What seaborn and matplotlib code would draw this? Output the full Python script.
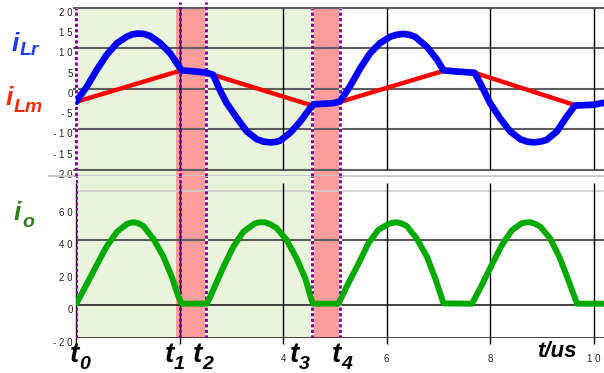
import matplotlib
matplotlib.use("Agg")
import matplotlib.pyplot as plt
import matplotlib.transforms as mtransforms
import seaborn as sns

# resonant inductor current i_Lr (A) over time (us)
t_lr = [0.00, 0.21, 0.40, 0.59, 0.79, 0.98, 1.09, 1.20, 1.31, 1.43, 1.62, 1.82,
        1.95, 2.04, 2.33, 2.53, 2.65, 2.78, 2.91, 3.11, 3.30, 3.49, 3.62, 3.75,
        3.85, 3.94, 4.14, 4.33, 4.52, 4.59, 4.97, 5.10, 5.29, 5.49, 5.68, 5.87,
        6.07, 6.20, 6.32, 6.44, 6.55, 6.78, 6.97, 7.10, 7.36, 7.70, 7.81, 8.00,
        8.19, 8.39, 8.58, 8.71, 8.84, 8.97, 9.09, 9.29, 9.48, 9.64, 10.00, 10.20]
i_lr = [-3.2, 0.6, 4.7, 8.4, 11.3, 12.9, 13.5, 13.7, 13.6, 13.1, 11.4, 8.8,
        6.3, 4.6, 4.3, 4.0, 3.5, -0.3, -3.5, -7.2, -10.5, -12.4, -13.0, -13.2,
        -13.1, -12.8, -10.8, -8.1, -4.8, -3.8, -3.5, -3.1, 0.6, 5.1, 8.8, 11.3,
        12.9, 13.4, 13.6, 13.4, 12.9, 10.4, 7.3, 4.6, 4.3, 4.0, 1.4, -3.5,
        -7.2, -10.5, -12.4, -13.0, -13.2, -13.0, -12.6, -10.5, -6.8, -4.1, -3.9, -3.4]

# magnetizing current i_Lm (A)
t_lm = [0.00, 2.01, 2.52, 4.54, 5.10, 7.08, 7.70, 9.64]
i_lm = [-3.2, 4.5, 4.0, -4.0, -3.2, 4.4, 4.0, -4.0]

# rectified output current i_o (A)
t_o = [0.01, 0.21, 0.40, 0.59, 0.79, 0.98, 1.05, 1.11, 1.20, 1.30, 1.49, 1.69,
       1.85, 1.98, 2.04, 2.53, 2.65, 2.85, 3.04, 3.23, 3.46, 3.55, 3.65, 3.76,
       3.88, 4.07, 4.26, 4.43, 4.55, 4.58, 5.07, 5.26, 5.46, 5.65, 5.84, 6.03,
       6.12, 6.20, 6.29, 6.39, 6.58, 6.78, 6.94, 7.10, 7.65, 7.84, 8.03, 8.23,
       8.42, 8.61, 8.69, 8.77, 8.87, 8.97, 9.16, 9.35, 9.51, 9.68, 10.20]
i_o = [1.0, 13.0, 24.6, 35.9, 45.0, 49.8, 50.6, 50.9, 50.4, 48.6, 41.0, 29.7,
       17.4, 5.1, 0.8, 0.8, 9.2, 23.6, 35.9, 45.0, 50.3, 50.9, 50.9, 49.6,
       47.2, 40.0, 28.7, 16.4, 3.1, 0.8, 0.8, 13.3, 25.6, 38.0, 46.2, 49.8,
       50.6, 50.9, 50.2, 48.6, 41.0, 29.7, 16.4, 1.0, 0.8, 12.3, 24.6, 37.0,
       46.0, 50.3, 50.8, 50.9, 50.0, 48.2, 41.0, 28.7, 15.4, 0.8, 0.8]

# switching instants t0..t4 (us)
instants = [0.0, 2.0, 2.52, 4.56, 5.10]
instant_names = ["0", "1", "2", "3", "4"]

# operating intervals
green_spans = [(0.0, 1.93), (2.52, 4.54)]
pink_spans = [(1.93, 2.52), (4.54, 5.10)]

top_ticks = [20, 15, 10, 5, 0, -5, -10, -15, -20]
top_tick_labels = ["2 0", "1 5", "1 0", "5", "0", "- 5", "- 1 0", "- 1 5", "- 2 0"]
bot_ticks = [60, 40, 20, 0, -20]
bot_tick_labels = ["6 0", "4 0", "2 0", "0", "- 2 0"]
x_ticks = [0, 2, 4, 6, 8, 10]
x_tick_labels = ["", "", "4", "6", "8", "1 0"]

sns.set_style("white")
plt.rcParams["font.family"] = ["Liberation Sans", "DejaVu Sans"]

W, H = 604, 373
fig = plt.figure(figsize=(W / 100, H / 100), dpi=100)


def px_axes(x0, y0, x1, y1):
    return fig.add_axes([x0 / W, 1 - y1 / H, (x1 - x0) / W, (y1 - y0) / H])


ax1 = px_axes(76, 8, 604, 176)
ax2 = px_axes(76, 176, 604, 337.5)
ax1.set_xlim(0, 10.2)
ax1.set_ylim(-21.5, 20)
ax2.set_xlim(0, 10.2)
ax2.set_ylim(-20, 79.4)

GREEN_BG = "#e9f4dc"
PINK_BG = "#ff9c9c"

for ax in (ax1, ax2):
    for s in ax.spines.values():
        s.set_visible(False)
    ax.set_facecolor("none")
    for a, b in green_spans:
        ax.axvspan(a, b, color=GREEN_BG, lw=0, zorder=0)
    for a, b in pink_spans:
        ax.axvspan(a, b, color=PINK_BG, lw=0, zorder=0)

# grid of the upper panel
ax1.hlines([20, 10, 0, -10, -20], -0.06, 10.2, colors="#5f5f5f", lw=1.5,
           zorder=1, clip_on=False)
ax1.vlines([2, 4, 6, 8, 10], -20, 20, colors="black", lw=1.0, zorder=1)
ax1.hlines([-21.5], -0.54, 10.2, colors="#c8c8c8", lw=1.4, zorder=1, clip_on=False)

# grid of the lower panel
ax2.hlines([70], 0, 10.2, colors="#cccccc", lw=1.2, zorder=1)
ax2.hlines([40], 0, 10.2, colors="#5a5a5a", lw=1.5, zorder=1)
ax2.hlines([0, -20], 0, 10.2, colors="#222222", lw=1.2, zorder=1)
ax2.vlines([0, 2, 4, 6, 8, 10], -24, 75, colors="black", lw=1.0, zorder=1,
           clip_on=False)

# dotted markers at the switching instants
PURPLE = "#7e0a8a"
ext_top = 6 / 168
for k, t in enumerate(instants):
    if k != 1:
        ax1.axvline(t, 0, 1, color="white", lw=2.0, zorder=2)
        if k != 0:
            ax2.axvline(t, 0, 1, color="white", lw=2.0, zorder=2)
    ymax = 1 + ext_top if k in (1, 2) else 1
    ax1.axvline(t, 0, ymax, color=PURPLE, lw=2.1, ls=(0, (1.1, 0.8)),
                zorder=2, clip_on=False)
    ax2.axvline(t, 0, 1, color=PURPLE, lw=2.1, ls=(0, (1.1, 0.8)), zorder=2)

# waveforms
line_kw = dict(estimator=None, sort=False, solid_joinstyle="round",
               solid_capstyle="round")
sns.lineplot(x=t_lm, y=i_lm, ax=ax1, color="#ff0000", lw=3.2, zorder=3, **line_kw)
sns.lineplot(x=t_lr, y=i_lr, ax=ax1, color="#0000ff", lw=4.8, zorder=4, **line_kw)
sns.lineplot(x=t_o, y=i_o, ax=ax2, color="#00aa00", lw=4.3, zorder=4, **line_kw)

# ticks
shift = mtransforms.ScaledTranslation(0, -4 / 100, fig.dpi_scale_trans)
ax1.set_yticks(top_ticks, top_tick_labels)
ax2.set_yticks(bot_ticks, bot_tick_labels)
ax1.set_xticks([])
ax2.set_xticks(x_ticks, x_tick_labels)
for ax in (ax1, ax2):
    ax.tick_params(axis="y", length=0, pad=2.5, labelsize=7, labelcolor="#222222")
    for lab in ax.get_yticklabels():
        lab.set_transform(lab.get_transform() + shift)
    ax.set_xlabel("")
    ax.set_ylabel("")
ax2.tick_params(axis="x", length=0, pad=12, labelsize=7, labelcolor="#222222")


def ftext(x, y, s, **kw):
    fig.text(x / W, 1 - y / H, s, va="baseline", ha="left",
             fontweight="bold", fontstyle="italic", **kw)


# channel names
ftext(12, 51, "i", fontsize=19, color="#1d3bff")
ftext(20, 55, "Lr", fontsize=14, color="#1d3bff")
ftext(6, 105, "i", fontsize=19, color="#f42a0a")
ftext(14, 112, "Lm", fontsize=14, color="#f42a0a")
ftext(14, 220, "i", fontsize=19, color="#2f7d1c")
ftext(22, 227, "o", fontsize=14, color="#2f7d1c")

# instant names
name_x = [70, 165, 193, 290, 332]
for x, n in zip(name_x, instant_names):
    ftext(x, 362, "t", fontsize=20, color="black")
    ftext(x + 9, 369, n, fontsize=14, color="black")

ftext(537, 357, "t/us", fontsize=16, color="black")

fig.savefig("out.png", dpi=100)
